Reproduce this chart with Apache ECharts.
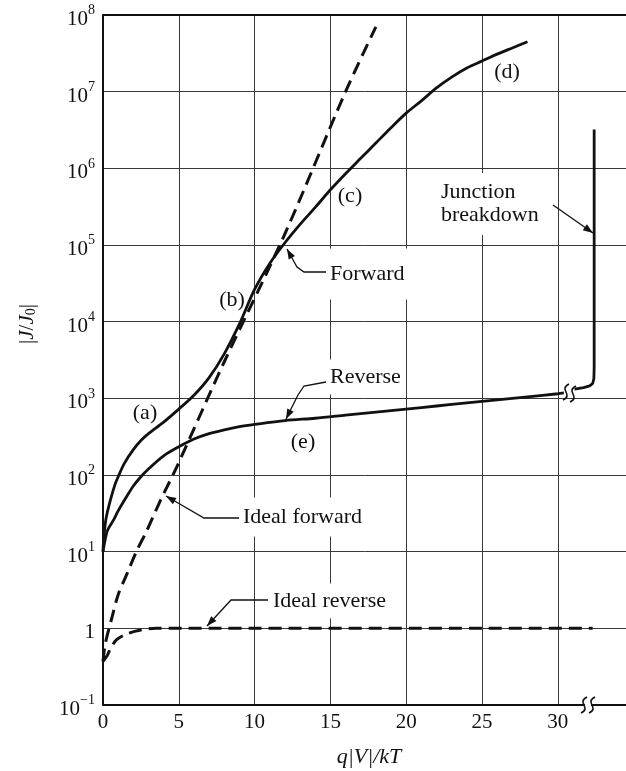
<!DOCTYPE html>
<html><head><meta charset="utf-8">
<script src="https://cdn.jsdelivr.net/npm/echarts@6/dist/echarts.min.js"></script>
<style>html,body{margin:0;padding:0;background:#fff}#c{width:626px;height:771px}</style>
</head><body><div id="c"></div>
<script>
// ---------- data ----------
const xTickLabels = [0, 5, 10, 15, 20, 25, 30];

const forwardX = [0, 0.05, 0.2, 0.5, 0.8, 1.0, 1.4, 2.0, 2.5, 3.0, 4.0, 5.0, 6.0, 7.0, 8.0, 9.0, 10.0, 11.0, 12.0, 13.0, 14.0, 15.0, 16.0, 17.0, 18.0, 19.0, 20.0, 21.0, 22.0, 23.0, 24.0, 25.0, 26.0, 27.0, 28.0];
const forwardJ = [10, 15, 27, 48, 76, 95, 141, 214, 282, 347, 490, 724, 1096, 1862, 3802, 9333, 26300, 57500, 107000, 186000, 309000, 525000, 851000, 1.35e6, 2.14e6, 3.39e6, 5.25e6, 7.59e6, 1.12e7, 1.55e7, 2.04e7, 2.51e7, 3.09e7, 3.72e7, 4.47e7];

const reverseX = [0, 0.1, 0.3, 0.7, 1.0, 1.5, 2.0, 2.5, 3.0, 4.0, 5.0, 6.0, 7.0, 8.0, 9.0, 10.0, 12.0, 14.0, 16.0, 18.0, 20.0, 22.0, 24.0, 26.0, 28.0, 30.0, 30.4];
const reverseJ = [10, 13, 19, 26, 34, 50, 72, 95, 120, 178, 234, 295, 347, 389, 427, 457, 513, 550, 603, 661, 724, 794, 871, 955, 1047, 1148, 1175];

const breakdownX = [31.1, 31.7, 32.1, 32.3, 32.38, 32.4, 32.4];
const breakdownJ = [1320, 1380, 1450, 1560, 1800, 2500, 3.2e6];

const idealForwardX = [0, 0.15, 0.6, 1.0, 1.6, 2.2, 2.9, 3.8, 4.9, 8.0, 12.0, 16.0, 18.0];
const idealForwardJ = [0.37, 0.63, 1.41, 2.75, 5.25, 10, 19, 47, 132, 3000, 1.4e5, 1e7, 7e7];

const idealReverseX = [0, 0.3, 0.5, 0.9, 1.6, 2.5, 3.5, 32.3];
const idealReverseJ = [0.37, 0.45, 0.55, 0.71, 0.85, 0.95, 1, 1];

const curveTags = ['(a)', '(b)', '(c)', '(d)', '(e)'];
const noteTexts = ['Forward', 'Reverse', 'Ideal forward', 'Ideal reverse', 'Junction\nbreakdown'];

// ---------- styling / layout ----------
const FONT = '"Liberation Serif", "Times New Roman", serif';
const INK = '#111';
const GRID = '#3a3a3a';

function pts(xs, ys) { return xs.map((x, i) => [x, ys[i]]); }

function arrowHead(tip, from, len, half) {
  len = len || 10; half = half || 3.6;
  const dx = tip[0] - from[0], dy = tip[1] - from[1];
  const L = Math.hypot(dx, dy), ux = dx / L, uy = dy / L;
  const bx = tip[0] - ux * len, by = tip[1] - uy * len;
  return { type: 'polygon', z: 60,
    shape: { points: [tip, [bx - uy * half, by + ux * half], [bx + uy * half, by - ux * half]] },
    style: { fill: INK } };
}
function leader(points) {
  const n = points.length;
  return [
    { type: 'polyline', z: 59, shape: { points: points, smooth: 0 }, style: { stroke: INK, lineWidth: 1.3, fill: null } },
    arrowHead(points[n - 1], points[n - 2])
  ];
}
function txt(x, y, text, align, pad, size) {
  return { type: 'text', z: 55, x: x, y: y,
    style: { x: 0, y: 0, text: text, font: (size || 22) + 'px ' + FONT, fill: INK,
      align: align, verticalAlign: 'middle', textAlign: align, textVerticalAlign: 'middle',
      backgroundColor: pad ? '#fff' : null, padding: pad || 0, lineHeight: 23 } };
}
function squiggle(cx, cy, h) {
  return { type: 'bezierCurve', z: 62,
    shape: { x1: cx + 3, y1: cy - h / 2, x2: cx - 3, y2: cy + h / 2,
      cpx1: cx - 8, cpy1: cy - h / 6, cpx2: cx + 8, cpy2: cy + h / 6 },
    style: { stroke: INK, lineWidth: 1.6, fill: null } };
}

const graphics = [].concat(
  [txt(145, 413, curveTags[0], 'center'), txt(232, 300, curveTags[1], 'center'),
   txt(350, 196, curveTags[2], 'center'), txt(507, 72, curveTags[3], 'center'),
   txt(303, 442, curveTags[4], 'center')],
  [txt(327, 274, noteTexts[0], 'left', [14, 3]),
   txt(327, 377, noteTexts[1], 'left', [6, 3]),
   txt(240, 517, noteTexts[2], 'left', [8, 3]),
   txt(270, 601, noteTexts[3], 'left', [6, 3]),
   txt(438, 204, noteTexts[4], 'left', [8, 3])],
  leader([[326, 272], [304, 272], [297, 267], [292, 258], [287, 249]]),
  leader([[326, 382], [304, 386], [298, 395], [286, 419]]),
  leader([[239, 518], [204, 518], [166, 496]]),
  leader([[268, 600], [231, 600], [207, 626]]),
  leader([[553, 205], [593, 233]]),
  [{ type: 'rect', z: 61, shape: { x: 585, y: 700, width: 6, height: 10 }, style: { fill: '#fff' } },
   squiggle(584, 705, 16), squiggle(592, 705, 16),
   squiggle(566, 392, 16), squiggle(573, 394, 16)],
  [{ type: 'text', z: 55, x: 369, y: 757,
     style: { x: 0, y: 0, text: 'q|V|/kT', font: 'italic 22px ' + FONT, fill: INK,
       align: 'center', verticalAlign: 'middle', textAlign: 'center', textVerticalAlign: 'middle' } },
   { type: 'text', z: 55, x: 27, y: 324, rotation: Math.PI / 2,
     style: { x: 0, y: 0, text: '{n||}{i|J}{n|/}{i|J}{s|0}{n||}', fill: INK,
       align: 'center', verticalAlign: 'middle', textAlign: 'center', textVerticalAlign: 'middle',
       rich: { n: { fontFamily: FONT, fontSize: 21, fill: INK, color: INK },
               i: { fontFamily: FONT, fontSize: 21, fontStyle: 'italic', fill: INK, color: INK },
               s: { fontFamily: FONT, fontSize: 14, fill: INK, color: INK, padding: [8, 0, 0, 0] } } } }]
);

const chart = echarts.init(document.getElementById('c'), null, { renderer: 'canvas' });
chart.setOption({
  animation: false,
  backgroundColor: '#fff',
  grid: { left: 103, right: 0, top: 15, bottom: 66 },
  xAxis: [{
    type: 'value', min: 0, max: 34.5, interval: 5,
    axisLine: { show: true, onZero: false, lineStyle: { color: INK, width: 2 } },
    axisTick: { show: false },
    splitLine: { show: true, showMaxLine: false, lineStyle: { color: GRID, width: 1 } },
    axisLabel: { fontFamily: FONT, fontSize: 21, color: INK, margin: 7, showMaxLabel: false,
      formatter: v => xTickLabels.indexOf(v) >= 0 ? String(v) : '' }
  }, {
    type: 'value', position: 'top', min: 0, max: 34.5,
    axisLine: { show: true, onZero: false, lineStyle: { color: INK, width: 2 } },
    axisTick: { show: false }, axisLabel: { show: false }, splitLine: { show: false }
  }],
  yAxis: {
    type: 'log', logBase: 10, min: 0.1, max: 1e8, splitNumber: 9,
    axisLine: { show: true, onZero: false, lineStyle: { color: INK, width: 2 } },
    axisTick: { show: false },
    splitLine: { show: true, lineStyle: { color: GRID, width: 1 } },
    axisLabel: {
      margin: 8,
      formatter: function (v) {
        const e = Math.round(Math.log10(v));
        if (e === 0) return '{b|1}';
        return '{b|10}{s|' + (e < 0 ? '\u2212' + (-e) : e) + '}';
      },
      rich: {
        b: { fontFamily: FONT, fontSize: 21, color: INK, lineHeight: 21, padding: [9, 0, 0, 0] },
        s: { fontFamily: FONT, fontSize: 14, color: INK, lineHeight: 14, padding: [0, 0, 9, 0] }
      }
    }
  },
  series: [
    { name: 'Forward', type: 'line', data: pts(forwardX, forwardJ), showSymbol: false, smooth: 0.3,
      lineStyle: { color: INK, width: 2.8 }, z: 5 },
    { name: 'Reverse', type: 'line', data: pts(reverseX, reverseJ), showSymbol: false, smooth: 0.3,
      lineStyle: { color: INK, width: 2.8 }, z: 5 },
    { name: 'Breakdown', type: 'line', data: pts(breakdownX, breakdownJ), showSymbol: false, smooth: false,
      lineStyle: { color: INK, width: 2.8, join: 'round' }, z: 5 },
    { name: 'Ideal forward', type: 'line', data: pts(idealForwardX, idealForwardJ), showSymbol: false, smooth: 0.3,
      lineStyle: { color: INK, width: 3, type: [13, 7] }, z: 5 },
    { name: 'Ideal reverse', type: 'line', data: pts(idealReverseX, idealReverseJ), showSymbol: false, smooth: 0.3,
      lineStyle: { color: INK, width: 3, type: [13, 7] }, z: 5 }
  ],
  graphic: graphics
});
</script></body></html>
